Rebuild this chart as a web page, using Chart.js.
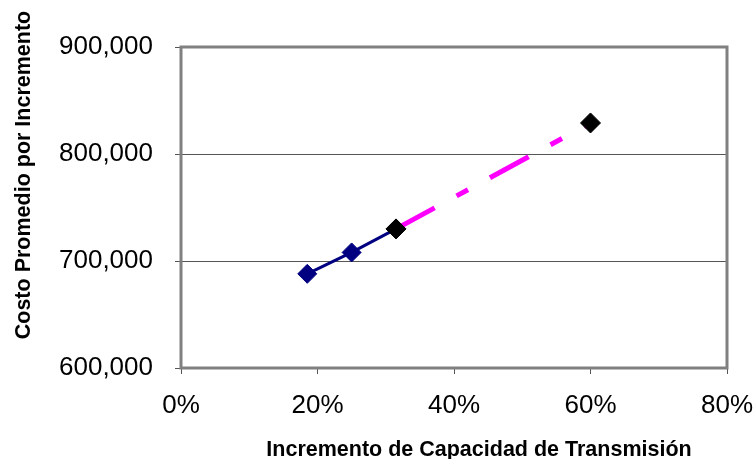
<!DOCTYPE html>
<html>
<head>
<meta charset="utf-8">
<script src="https://cdn.jsdelivr.net/npm/chart.js@4/dist/chart.umd.min.js"></script>
<style>
html,body{margin:0;padding:0;background:#fff;}
#wrap{width:756px;height:459px;position:relative;}
</style>
</head>
<body>
<div id="wrap"><canvas id="c" width="756" height="459"></canvas></div>
<script>
// Data
const actualX = [18.5, 25, 31.5];            // % increase in transmission capacity
const actualY = [688000, 708000, 730000];    // average cost per increment
const projX = [31.5, 60];
const projY = [730000, 829000];
const xTicks = [0, 20, 40, 60, 80];
const yTicks = [600000, 700000, 800000, 900000];
const xTitle = 'Incremento de Capacidad de Transmisión';
const yTitle = 'Costo Promedio por Incremento';

const FONT = "'Liberation Sans', Arial, sans-serif";

const toPts = (xs, ys) => xs.map((x, i) => ({x: x, y: ys[i]}));

const frame = {
  id: 'frame',
  beforeDatasetsDraw(chart) {
    const a = chart.chartArea, ctx = chart.ctx;
    ctx.save();
    ctx.strokeStyle = '#808080';
    ctx.lineWidth = 3;
    ctx.strokeRect(a.left, a.top, a.right - a.left, a.bottom - a.top);
    ctx.restore();
  },
  afterDraw(chart) {
    const ctx = chart.ctx;
    ctx.save();
    ctx.fillStyle = '#000';
    ctx.font = "bold 21.5px " + FONT;
    ctx.textAlign = 'center';
    ctx.textBaseline = 'middle';
    ctx.fillText(xTitle, 479, 450);
    ctx.translate(24, 175);
    ctx.rotate(-Math.PI / 2);
    ctx.fillText(yTitle, 0, 0);
    ctx.restore();
  }
};

new Chart(document.getElementById('c'), {
  type: 'scatter',
  data: {
    datasets: [
      {
        data: toPts(projX, projY),
        showLine: false,
        pointStyle: 'rectRot',
        pointRadius: 10,
        pointHoverRadius: 10,
        backgroundColor: '#000000',
        borderColor: '#000000',
        borderWidth: 1,
        order: 0
      },
      {
        data: toPts(actualX, actualY),
        showLine: true,
        borderColor: '#000080',
        borderWidth: 3,
        pointStyle: 'rectRot',
        pointRadius: 9.5,
        pointHoverRadius: 9.5,
        backgroundColor: '#000080',
        pointBorderColor: '#000080',
        pointBorderWidth: 1,
        order: 1
      },
      {
        data: toPts(projX, projY),
        showLine: true,
        borderColor: '#FF00FF',
        borderWidth: 5,
        borderDash: [44, 25, 13, 25],
        borderCapStyle: 'butt',
        pointRadius: 0,
        pointHoverRadius: 0,
        order: 2
      }
    ]
  },
  options: {
    responsive: false,
    animation: false,
    devicePixelRatio: 1,
    layout: {padding: {top: 47, right: 29, left: 0, bottom: 0}},
    plugins: {legend: {display: false}, tooltip: {enabled: false}},
    scales: {
      x: {
        type: 'linear',
        min: xTicks[0],
        max: xTicks[xTicks.length - 1],
        afterBuildTicks: s => { s.ticks = xTicks.map(v => ({value: v})); },
        afterFit: s => { s.height = 91; s.paddingLeft = 0; s.paddingRight = 0; },
        border: {display: false},
        grid: {
          color: 'rgba(0,0,0,0)',
          tickColor: '#555555',
          tickLength: 6,
          drawOnChartArea: false
        },
        ticks: {
          color: '#000',
          font: {family: FONT, size: 26},
          padding: 16,
          maxRotation: 0,
          callback: v => v + '%'
        }
      },
      y: {
        type: 'linear',
        min: yTicks[0],
        max: yTicks[yTicks.length - 1],
        afterBuildTicks: s => { s.ticks = yTicks.map(v => ({value: v})); },
        afterFit: s => { s.width = 181; s.paddingTop = 0; s.paddingBottom = 0; },
        border: {display: false},
        grid: {
          color: ctx => (ctx.tick && (ctx.tick.value === 700000 || ctx.tick.value === 800000)) ? '#555555' : 'rgba(0,0,0,0)',
          tickColor: '#555555',
          tickLength: 6,
          lineWidth: 1
        },
        ticks: {
          color: '#000',
          font: {family: FONT, size: 26},
          padding: 22,
          callback: v => v.toLocaleString('en-US')
        }
      }
    }
  },
  plugins: [frame]
});
</script>
</body>
</html>
